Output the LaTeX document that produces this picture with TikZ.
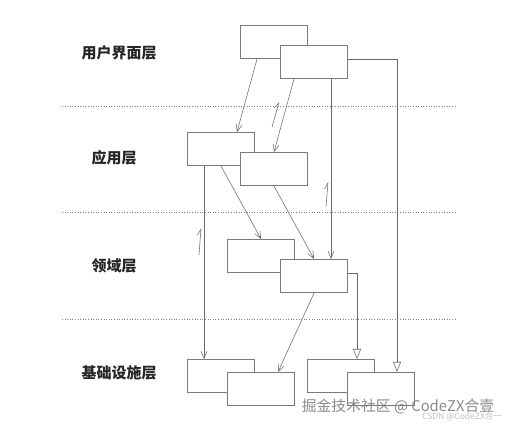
\documentclass[tikz,border=0pt]{standalone}
\usepackage{fontspec}
\usepackage{tikz}
\usetikzlibrary{arrows.meta}
\newfontfamily\cjk{Noto Sans CJK SC}
\definecolor{boxgray}{HTML}{7A7A7A}
\definecolor{linegray}{HTML}{6A6A6A}
\definecolor{markgray}{HTML}{8A8A8A}

\tikzset{
	part/.style={draw=boxgray, line width=0.8pt, fill=white, minimum width=66.7pt, minimum height=33.3pt, inner sep=0pt},
	call/.style={draw=linegray, line width=0.55pt, -{Straight Barb[length=7pt,width=6pt]}},
	impl/.style={draw=linegray, line width=0.55pt, -{Triangle[open,length=10pt,width=8pt,fill=white]}},
	back/.style={draw=linegray, line width=0.55pt, -{Straight Barb[harpoon,length=6pt,width=6pt]}},
	layername/.style={font=\cjk\bfseries\fontsize{15}{18}\selectfont, text=black!85},
	layerline/.style={draw=gray, line width=0.6pt, dotted}
}

\begin{document}
\begin{tikzpicture}[x=1pt, y=-1pt]
\useasboundingbox (0,0) rectangle (510,427);

% layer names
\node[layername] (lui) at (119,53) {用户界面层};
\node[layername] (lapp) at (114,158) {应用层};
\node[layername] (ldom) at (114,266) {领域层};
\node[layername] (linf) at (119,373) {基础设施层};

% layer borders
\foreach \y in {106, 212, 319}{
	\draw[layerline] (62,\y) -- (455,\y);
}

% parts, back one first
\node[part] (uiA) at (274,42) {};
\node[part] (uiB) at (314,62) {};
\node[part] (appA) at (221,149) {};
\node[part] (appB) at (274,169) {};
\node[part] (domA) at (261,256) {};
\node[part] (domB) at (314,276) {};
\node[part] (infA) at (221,376) {};
\node[part] (infB) at (261,389) {};
\node[part] (infC) at (341,376) {};
\node[part] (infD) at (381,389) {};

% calls down the layers
\draw[call] ([xshift=-17pt]uiA.south) -- ([xshift=16pt]appA.north);
\draw[call] ([xshift=-20pt]uiB.south) -- (appB.north);
\draw[call] ([xshift=17pt]uiB.south) -- ([xshift=17pt]domB.north);
\draw[call] ([xshift=-17pt]appA.south) -- ([xshift=-17pt]infA.north);
\draw[call] (appA.south) -- (domA.north);
\draw[call] (appB.south) -- (domB.north);
\draw[call] (domB.south) -- ([xshift=17pt]infB.north);

% implemented by infrastructure
\draw[impl] ([yshift=3pt]uiB.east) -| ([xshift=16pt]infD.north);
\draw[impl] ([yshift=3pt]domB.east) -| ([xshift=16pt]infC.north);

% returns
\coordinate (r1a) at (272,127);
\coordinate (r1b) at (279,102);
\coordinate (r2a) at (326,207);
\coordinate (r2b) at (328,182);
\coordinate (r3a) at (199,255);
\coordinate (r3b) at (201,228);
\draw[back] (r1a) -- (r1b);
\draw[back] (r2a) -- (r2b);
\draw[back] (r3a) -- (r3b);

% marks
\node[font=\cjk\fontsize{14.8}{17}\selectfont, text=markgray, inner sep=0pt] (mark) at (398,406) {掘金技术社区 @ CodeZX合壹};
\node[font=\cjk\fontsize{8.5}{10}\selectfont, text=black!25, inner sep=0pt] (mark2) at (462,417) {CSDN @CodeZX合一};
\end{tikzpicture}
\end{document}
